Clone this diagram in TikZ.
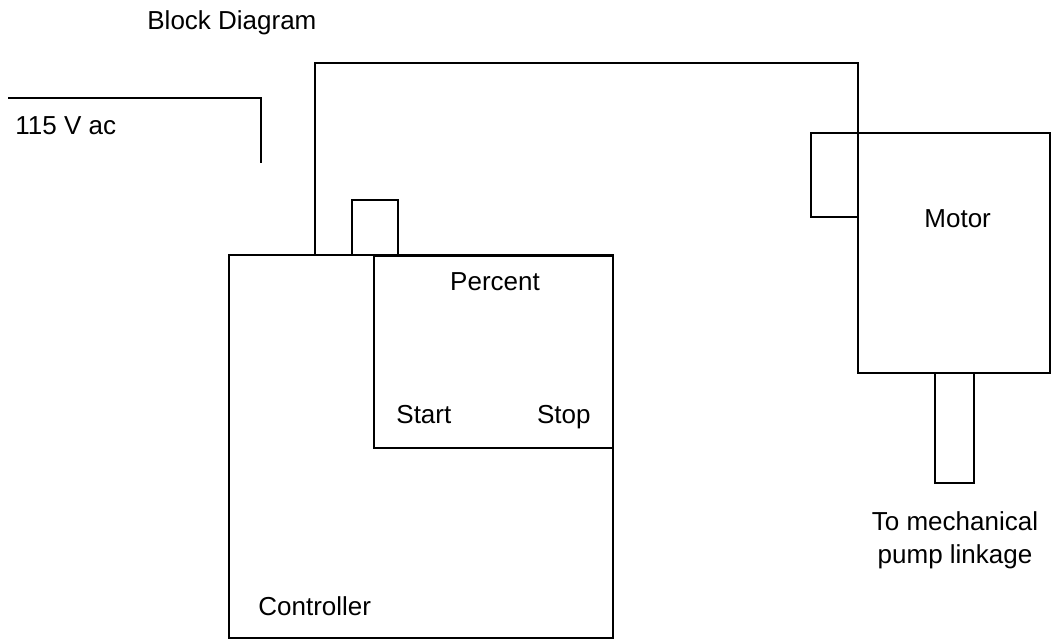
\documentclass[tikz,border=0pt]{standalone}
\usepackage{fontspec}
\setmainfont{Liberation Sans}
\usetikzlibrary{fit}

\begin{document}
\begin{tikzpicture}[x=0.5pt, y=-0.5pt, line width=1.4pt,
  box/.style={draw, rectangle, inner sep=0pt, outer sep=0pt},
  lbl/.style={inner sep=0pt, font=\fontsize{13}{15}\selectfont}]
\useasboundingbox (0,0) rectangle (1052,641);

% Title
\node[lbl, anchor=base west] (title) at (146,30) {Block Diagram};

% Mains feed
\coordinate (mains) at (8,98);
\coordinate (mains end) at (261,163);
\draw (mains) -| (mains end);
\node[lbl, anchor=base west] (mainslbl) at (14,135) {115 V ac};

% Controller
\node[box, fit={(229,255) (613,638)}] (controller) {};
\node[box, fit={(374,256) (613,448)}] (percent) {};
\node[box, fit={(352,200) (398,255)}] (knob) {};
\node[lbl, anchor=base] (percentlbl) at (495,290) {Percent};
\node[lbl, anchor=base west] (start) at (395,423) {Start};
\node[lbl, anchor=base east] (stop) at (592,423) {Stop};
\node[lbl, anchor=base west] (controllerlbl) at (257,615) {Controller};

% Motor
\node[box, fit={(858,133) (1050,373)}] (motor) {};
\node[box, fit={(811,133) (858,217)}] (brush) {};
\node[box, fit={(935,373) (974,483)}] (shaft) {};
\node[lbl, anchor=base west] (motorlbl) at (923,228) {Motor};
\node[lbl, anchor=base, align=center] (pumplbl) at (955,563)
  {To mechanical\\[1.5pt]pump linkage};

% Wire from controller to motor
\coordinate (ctl in) at (315,255);
\coordinate (bend) at (315,63);
\draw (ctl in) -- (bend) -| (motor.north west);
\end{tikzpicture}
\end{document}
